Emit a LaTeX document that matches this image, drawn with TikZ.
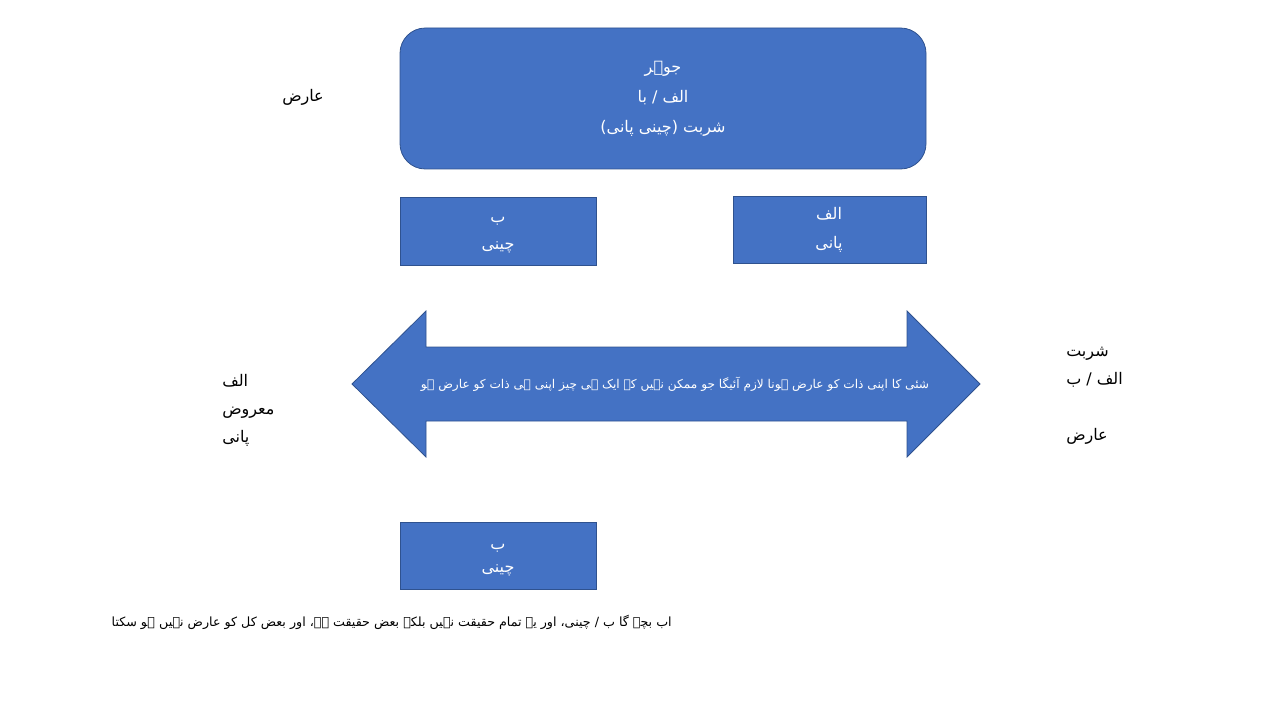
\documentclass[tikz,border=0pt]{standalone}
\usepackage{fontspec}
\TeXXeTstate=1
\newfontfamily\urdufont[Script=Arabic]{DejaVu Sans}
\definecolor{boxblue}{HTML}{4472C4}
\definecolor{boxline}{HTML}{2F528F}
\tikzset{
  bluebox/.style={draw=boxline, fill=boxblue, line width=0.6pt},
  intext/.style={text=white, font=\urdufont\fontsize{12}{22.5}\selectfont, align=center},
  outtext/.style={text=black, font=\urdufont\fontsize{12}{21}\selectfont, align=left},
}
\begin{document}
\begin{tikzpicture}[x=0.75pt,y=-0.75pt]
\useasboundingbox (0,0) rectangle (1280,720);

% boxes
\draw[bluebox, rounded corners=19pt] (400,28) rectangle (926,169);
\node[intext] (jauhar) at (663,99) {\beginR جوہر\endR\\\beginR الف / با\endR\\\beginR شربت (چینی پانی)\endR};

\draw[bluebox] (400,197) rectangle (596,265);
\node[intext, font=\urdufont\fontsize{12}{20.5}\selectfont] (cheeni) at (498,235) {\beginR ب\endR\\\beginR چینی\endR};

\draw[bluebox] (733,196) rectangle (926,263);
\node[intext, font=\urdufont\fontsize{12}{21.5}\selectfont] (pani) at (829,230) {\beginR الف\endR\\\beginR پانی\endR};

\draw[bluebox] (400,522) rectangle (596,589);
\node[intext, font=\urdufont\fontsize{12}{17.5}\selectfont] (baqi) at (498,560) {\beginR ب\endR\\\beginR چینی\endR};

% double arrow
\coordinate (a1) at (352,384);
\coordinate (a2) at (426,311);
\coordinate (a3) at (426,347);
\coordinate (a4) at (907,347);
\coordinate (a5) at (907,311);
\coordinate (a6) at (980,384);
\coordinate (a7) at (907,457);
\coordinate (a8) at (907,421);
\coordinate (a9) at (426,421);
\coordinate (a10) at (426,457);
\draw[bluebox] (a1) -- (a2) -- (a3) -- (a4) -- (a5) -- (a6) -- (a7) -- (a8) -- (a9) -- (a10) -- cycle;
\node[intext, font=\urdufont\fontsize{9.1}{12}\selectfont] (lazim) at (675,384) {\beginR شئی کا اپنی ذات کو عارض ہونا لازم آئیگا جو ممکن نہیں کہ ایک ہی چیز اپنی ہی ذات کو عارض ہو\endR};

% outside labels
\node[outtext] (arz) at (303,97) {\beginR عارض\endR};
\node[outtext, anchor=north west, inner sep=0pt] (maroz) at (222,374) {\beginR الف\endR\\\beginR معروض\endR\\\beginR پانی\endR};
\node[outtext, anchor=north west, inner sep=0pt] (sharbat) at (1066,347) {\beginR شربت\endR\\\beginR الف / ب\endR\\\\\beginR عارض\endR};
\node[outtext, anchor=east, inner sep=0pt, font=\urdufont\fontsize{9.5}{12}\selectfont] (nateeja) at (672,622) {\beginR اب بچے گا ب / چینی، اور یہ تمام حقیقت نہیں بلکہ بعض حقیقت ہے، اور بعض کل کو عارض نہیں ہو سکتا\endR};
\end{tikzpicture}
\end{document}
